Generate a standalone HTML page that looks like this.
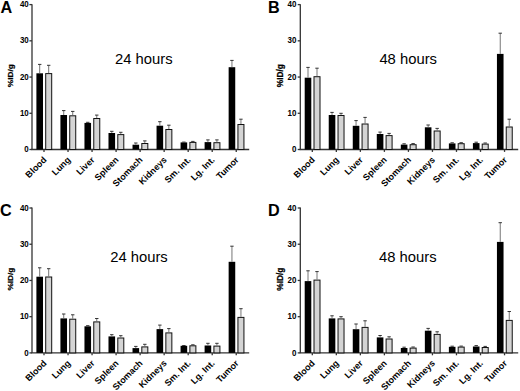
<!DOCTYPE html>
<html><head><meta charset="utf-8"><style>
html,body{margin:0;padding:0;background:#fff;}
body{width:520px;height:391px;overflow:hidden;}
svg{display:block;}
text{font-family:"Liberation Sans",sans-serif;fill:#000;}
.L{font-size:16.2px;font-weight:bold;}
.T{font-size:14.8px;}
.tn{font-size:9.5px;font-weight:bold;}
.xl{font-size:9px;font-weight:bold;}
.yl{font-size:8.3px;font-weight:bold;stroke:#000;stroke-width:0.25px;}
.ax{stroke:#333;stroke-width:1.3;}
.eb{stroke:#666;stroke-width:0.9;}
.ec{stroke:#333;stroke-width:1;}
</style></head><body>
<svg width="520" height="391" viewBox="0 0 520 391">
<rect width="520" height="391" fill="#fff"/>
<text x="0.4" y="12.5" class="L">A</text>
<text transform="translate(10.3,75.7) rotate(-90) scale(1,0.9)" class="yl" x="0" y="2.9" text-anchor="middle">%ID/g</text>
<line x1="29.4" x2="32" y1="149.5" y2="149.5" class="ax"/>
<text transform="translate(28.8,152.1) scale(0.84,1)" class="tn" text-anchor="end">0</text>
<line x1="29.4" x2="32" y1="113.28" y2="113.28" class="ax"/>
<text transform="translate(28.8,115.88) scale(0.84,1)" class="tn" text-anchor="end">10</text>
<line x1="29.4" x2="32" y1="77.05" y2="77.05" class="ax"/>
<text transform="translate(28.8,79.65) scale(0.84,1)" class="tn" text-anchor="end">20</text>
<line x1="29.4" x2="32" y1="40.83" y2="40.83" class="ax"/>
<text transform="translate(28.8,43.43) scale(0.84,1)" class="tn" text-anchor="end">30</text>
<line x1="29.4" x2="32" y1="4.6" y2="4.6" class="ax"/>
<text transform="translate(28.8,7.2) scale(0.84,1)" class="tn" text-anchor="end">40</text>
<line x1="32" x2="32" y1="4.2" y2="149.5" class="ax"/>
<line x1="31.4" x2="249.2" y1="149.5" y2="149.5" class="ax"/>
<rect x="36.4" y="73.3" width="6.6" height="76.2" fill="#000"/>
<line x1="39.7" x2="39.7" y1="64.4" y2="73.3" class="eb"/>
<line x1="38" x2="41.4" y1="64.4" y2="64.4" class="ec"/>
<rect x="45.7" y="73.6" width="6" height="75.9" fill="#d4d4d4" stroke="#111" stroke-width="1"/>
<line x1="48.7" x2="48.7" y1="65.3" y2="73.1" class="eb"/>
<line x1="47" x2="50.4" y1="65.3" y2="65.3" class="ec"/>
<line x1="44" x2="44" y1="149.5" y2="151.9" class="ax"/>
<text transform="translate(47.1,160.4) rotate(-45)" class="xl" text-anchor="end">Blood</text>
<rect x="60.43" y="115" width="6.6" height="34.5" fill="#000"/>
<line x1="63.73" x2="63.73" y1="110.6" y2="115" class="eb"/>
<line x1="62.03" x2="65.43" y1="110.6" y2="110.6" class="ec"/>
<rect x="69.73" y="115.8" width="6" height="33.7" fill="#d4d4d4" stroke="#111" stroke-width="1"/>
<line x1="72.73" x2="72.73" y1="111.4" y2="115.3" class="eb"/>
<line x1="71.03" x2="74.43" y1="111.4" y2="111.4" class="ec"/>
<line x1="68.03" x2="68.03" y1="149.5" y2="151.9" class="ax"/>
<text transform="translate(71.13,160.4) rotate(-45)" class="xl" text-anchor="end">Lung</text>
<rect x="84.46" y="122.9" width="6.6" height="26.6" fill="#000"/>
<line x1="87.76" x2="87.76" y1="122.3" y2="122.9" class="eb"/>
<line x1="86.06" x2="89.46" y1="122.3" y2="122.3" class="ec"/>
<rect x="93.76" y="118.5" width="6" height="31" fill="#d4d4d4" stroke="#111" stroke-width="1"/>
<line x1="96.76" x2="96.76" y1="115.1" y2="118" class="eb"/>
<line x1="95.06" x2="98.46" y1="115.1" y2="115.1" class="ec"/>
<line x1="92.06" x2="92.06" y1="149.5" y2="151.9" class="ax"/>
<text transform="translate(95.16,160.4) rotate(-45)" class="xl" text-anchor="end">Liver</text>
<rect x="108.49" y="133" width="6.6" height="16.5" fill="#000"/>
<line x1="111.79" x2="111.79" y1="131.3" y2="133" class="eb"/>
<line x1="110.09" x2="113.49" y1="131.3" y2="131.3" class="ec"/>
<rect x="117.79" y="134.6" width="6" height="14.9" fill="#d4d4d4" stroke="#111" stroke-width="1"/>
<line x1="120.79" x2="120.79" y1="132.3" y2="134.1" class="eb"/>
<line x1="119.09" x2="122.49" y1="132.3" y2="132.3" class="ec"/>
<line x1="116.09" x2="116.09" y1="149.5" y2="151.9" class="ax"/>
<text transform="translate(119.19,160.4) rotate(-45)" class="xl" text-anchor="end">Spleen</text>
<rect x="132.52" y="144.7" width="6.6" height="4.8" fill="#000"/>
<line x1="135.82" x2="135.82" y1="143" y2="144.7" class="eb"/>
<line x1="134.12" x2="137.52" y1="143" y2="143" class="ec"/>
<rect x="141.82" y="143.5" width="6" height="6" fill="#d4d4d4" stroke="#111" stroke-width="1"/>
<line x1="144.82" x2="144.82" y1="140.9" y2="143" class="eb"/>
<line x1="143.12" x2="146.52" y1="140.9" y2="140.9" class="ec"/>
<line x1="140.12" x2="140.12" y1="149.5" y2="151.9" class="ax"/>
<text transform="translate(143.22,160.4) rotate(-45)" class="xl" text-anchor="end">Stomach</text>
<rect x="156.55" y="125.7" width="6.6" height="23.8" fill="#000"/>
<line x1="159.85" x2="159.85" y1="121.7" y2="125.7" class="eb"/>
<line x1="158.15" x2="161.55" y1="121.7" y2="121.7" class="ec"/>
<rect x="165.85" y="129.5" width="6" height="20" fill="#d4d4d4" stroke="#111" stroke-width="1"/>
<line x1="168.85" x2="168.85" y1="125.2" y2="129" class="eb"/>
<line x1="167.15" x2="170.55" y1="125.2" y2="125.2" class="ec"/>
<line x1="164.15" x2="164.15" y1="149.5" y2="151.9" class="ax"/>
<text transform="translate(167.25,160.4) rotate(-45)" class="xl" text-anchor="end">Kidneys</text>
<rect x="180.58" y="142.4" width="6.6" height="7.1" fill="#000"/>
<line x1="182.18" x2="185.58" y1="142.1" y2="142.1" class="ec"/>
<rect x="189.88" y="142.4" width="6" height="7.1" fill="#d4d4d4" stroke="#111" stroke-width="1"/>
<line x1="192.88" x2="192.88" y1="141.4" y2="141.9" class="eb"/>
<line x1="191.18" x2="194.58" y1="141.4" y2="141.4" class="ec"/>
<line x1="188.18" x2="188.18" y1="149.5" y2="151.9" class="ax"/>
<text transform="translate(191.28,160.4) rotate(-45)" class="xl" text-anchor="end">Sm. Int.</text>
<rect x="204.61" y="142.1" width="6.6" height="7.4" fill="#000"/>
<line x1="207.91" x2="207.91" y1="139.9" y2="142.1" class="eb"/>
<line x1="206.21" x2="209.61" y1="139.9" y2="139.9" class="ec"/>
<rect x="213.91" y="142.7" width="6" height="6.8" fill="#d4d4d4" stroke="#111" stroke-width="1"/>
<line x1="216.91" x2="216.91" y1="139.9" y2="142.2" class="eb"/>
<line x1="215.21" x2="218.61" y1="139.9" y2="139.9" class="ec"/>
<line x1="212.21" x2="212.21" y1="149.5" y2="151.9" class="ax"/>
<text transform="translate(215.31,160.4) rotate(-45)" class="xl" text-anchor="end">Lg. Int.</text>
<rect x="228.64" y="67.2" width="6.6" height="82.3" fill="#000"/>
<line x1="231.94" x2="231.94" y1="60.4" y2="67.2" class="eb"/>
<line x1="230.24" x2="233.64" y1="60.4" y2="60.4" class="ec"/>
<rect x="237.94" y="124.5" width="6" height="25" fill="#d4d4d4" stroke="#111" stroke-width="1"/>
<line x1="240.94" x2="240.94" y1="119.2" y2="124" class="eb"/>
<line x1="239.24" x2="242.64" y1="119.2" y2="119.2" class="ec"/>
<line x1="236.24" x2="236.24" y1="149.5" y2="151.9" class="ax"/>
<text transform="translate(239.34,160.4) rotate(-45)" class="xl" text-anchor="end">Tumor</text>
<text x="115" y="64" class="T">24 hours</text>
<text x="267.9" y="12.5" class="L">B</text>
<text transform="translate(279.9,75.7) rotate(-90) scale(1,1.0)" class="yl" x="0" y="2.9" text-anchor="middle">%ID/g</text>
<line x1="297.7" x2="300.3" y1="149.5" y2="149.5" class="ax"/>
<text transform="translate(296.5,152.1) scale(0.84,1)" class="tn" text-anchor="end">0</text>
<line x1="297.7" x2="300.3" y1="113.28" y2="113.28" class="ax"/>
<text transform="translate(296.5,115.88) scale(0.84,1)" class="tn" text-anchor="end">10</text>
<line x1="297.7" x2="300.3" y1="77.05" y2="77.05" class="ax"/>
<text transform="translate(296.5,79.65) scale(0.84,1)" class="tn" text-anchor="end">20</text>
<line x1="297.7" x2="300.3" y1="40.83" y2="40.83" class="ax"/>
<text transform="translate(296.5,43.43) scale(0.84,1)" class="tn" text-anchor="end">30</text>
<line x1="297.7" x2="300.3" y1="4.6" y2="4.6" class="ax"/>
<text transform="translate(296.5,7.2) scale(0.84,1)" class="tn" text-anchor="end">40</text>
<line x1="300.3" x2="300.3" y1="4.2" y2="149.5" class="ax"/>
<line x1="299.7" x2="518.2" y1="149.5" y2="149.5" class="ax"/>
<rect x="304.7" y="77.7" width="6.6" height="71.8" fill="#000"/>
<line x1="308" x2="308" y1="67.4" y2="77.7" class="eb"/>
<line x1="306.3" x2="309.7" y1="67.4" y2="67.4" class="ec"/>
<rect x="314" y="76.7" width="6" height="72.8" fill="#d4d4d4" stroke="#111" stroke-width="1"/>
<line x1="317" x2="317" y1="68.2" y2="76.2" class="eb"/>
<line x1="315.3" x2="318.7" y1="68.2" y2="68.2" class="ec"/>
<line x1="312.3" x2="312.3" y1="149.5" y2="151.9" class="ax"/>
<text transform="translate(315.4,160.4) rotate(-45)" class="xl" text-anchor="end">Blood</text>
<rect x="328.73" y="115" width="6.6" height="34.5" fill="#000"/>
<line x1="332.03" x2="332.03" y1="112.4" y2="115" class="eb"/>
<line x1="330.33" x2="333.73" y1="112.4" y2="112.4" class="ec"/>
<rect x="338.03" y="115.5" width="6" height="34" fill="#d4d4d4" stroke="#111" stroke-width="1"/>
<line x1="341.03" x2="341.03" y1="113.3" y2="115" class="eb"/>
<line x1="339.33" x2="342.73" y1="113.3" y2="113.3" class="ec"/>
<line x1="336.33" x2="336.33" y1="149.5" y2="151.9" class="ax"/>
<text transform="translate(339.43,160.4) rotate(-45)" class="xl" text-anchor="end">Lung</text>
<rect x="352.76" y="125.8" width="6.6" height="23.7" fill="#000"/>
<line x1="356.06" x2="356.06" y1="120.6" y2="125.8" class="eb"/>
<line x1="354.36" x2="357.76" y1="120.6" y2="120.6" class="ec"/>
<rect x="362.06" y="124" width="6" height="25.5" fill="#d4d4d4" stroke="#111" stroke-width="1"/>
<line x1="365.06" x2="365.06" y1="117.4" y2="123.5" class="eb"/>
<line x1="363.36" x2="366.76" y1="117.4" y2="117.4" class="ec"/>
<line x1="360.36" x2="360.36" y1="149.5" y2="151.9" class="ax"/>
<text transform="translate(363.46,160.4) rotate(-45)" class="xl" text-anchor="end">Liver</text>
<rect x="376.79" y="134" width="6.6" height="15.5" fill="#000"/>
<line x1="380.09" x2="380.09" y1="132.1" y2="134" class="eb"/>
<line x1="378.39" x2="381.79" y1="132.1" y2="132.1" class="ec"/>
<rect x="386.09" y="135.6" width="6" height="13.9" fill="#d4d4d4" stroke="#111" stroke-width="1"/>
<line x1="389.09" x2="389.09" y1="133.4" y2="135.1" class="eb"/>
<line x1="387.39" x2="390.79" y1="133.4" y2="133.4" class="ec"/>
<line x1="384.39" x2="384.39" y1="149.5" y2="151.9" class="ax"/>
<text transform="translate(387.49,160.4) rotate(-45)" class="xl" text-anchor="end">Spleen</text>
<rect x="400.82" y="144.6" width="6.6" height="4.9" fill="#000"/>
<line x1="404.12" x2="404.12" y1="143.8" y2="144.6" class="eb"/>
<line x1="402.42" x2="405.82" y1="143.8" y2="143.8" class="ec"/>
<rect x="410.12" y="144.7" width="6" height="4.8" fill="#d4d4d4" stroke="#111" stroke-width="1"/>
<line x1="413.12" x2="413.12" y1="143.6" y2="144.2" class="eb"/>
<line x1="411.42" x2="414.82" y1="143.6" y2="143.6" class="ec"/>
<line x1="408.42" x2="408.42" y1="149.5" y2="151.9" class="ax"/>
<text transform="translate(411.52,160.4) rotate(-45)" class="xl" text-anchor="end">Stomach</text>
<rect x="424.85" y="127.3" width="6.6" height="22.2" fill="#000"/>
<line x1="428.15" x2="428.15" y1="125" y2="127.3" class="eb"/>
<line x1="426.45" x2="429.85" y1="125" y2="125" class="ec"/>
<rect x="434.15" y="131" width="6" height="18.5" fill="#d4d4d4" stroke="#111" stroke-width="1"/>
<line x1="437.15" x2="437.15" y1="128.4" y2="130.5" class="eb"/>
<line x1="435.45" x2="438.85" y1="128.4" y2="128.4" class="ec"/>
<line x1="432.45" x2="432.45" y1="149.5" y2="151.9" class="ax"/>
<text transform="translate(435.55,160.4) rotate(-45)" class="xl" text-anchor="end">Kidneys</text>
<rect x="448.88" y="143.4" width="6.6" height="6.1" fill="#000"/>
<line x1="452.18" x2="452.18" y1="142.8" y2="143.4" class="eb"/>
<line x1="450.48" x2="453.88" y1="142.8" y2="142.8" class="ec"/>
<rect x="458.18" y="143.7" width="6" height="5.8" fill="#d4d4d4" stroke="#111" stroke-width="1"/>
<line x1="461.18" x2="461.18" y1="142.7" y2="143.2" class="eb"/>
<line x1="459.48" x2="462.88" y1="142.7" y2="142.7" class="ec"/>
<line x1="456.48" x2="456.48" y1="149.5" y2="151.9" class="ax"/>
<text transform="translate(459.58,160.4) rotate(-45)" class="xl" text-anchor="end">Sm. Int.</text>
<rect x="472.91" y="143.1" width="6.6" height="6.4" fill="#000"/>
<line x1="476.21" x2="476.21" y1="142.2" y2="143.1" class="eb"/>
<line x1="474.51" x2="477.91" y1="142.2" y2="142.2" class="ec"/>
<rect x="482.21" y="144.1" width="6" height="5.4" fill="#d4d4d4" stroke="#111" stroke-width="1"/>
<line x1="485.21" x2="485.21" y1="143" y2="143.6" class="eb"/>
<line x1="483.51" x2="486.91" y1="143" y2="143" class="ec"/>
<line x1="480.51" x2="480.51" y1="149.5" y2="151.9" class="ax"/>
<text transform="translate(483.61,160.4) rotate(-45)" class="xl" text-anchor="end">Lg. Int.</text>
<rect x="496.94" y="53.9" width="6.6" height="95.6" fill="#000"/>
<line x1="500.24" x2="500.24" y1="33.2" y2="53.9" class="eb"/>
<line x1="498.54" x2="501.94" y1="33.2" y2="33.2" class="ec"/>
<rect x="506.24" y="127" width="6" height="22.5" fill="#d4d4d4" stroke="#111" stroke-width="1"/>
<line x1="509.24" x2="509.24" y1="119.2" y2="126.5" class="eb"/>
<line x1="507.54" x2="510.94" y1="119.2" y2="119.2" class="ec"/>
<line x1="504.54" x2="504.54" y1="149.5" y2="151.9" class="ax"/>
<text transform="translate(507.64,160.4) rotate(-45)" class="xl" text-anchor="end">Tumor</text>
<text x="379.4" y="64" class="T">48 hours</text>
<text x="-0.1" y="215.9" class="L">C</text>
<text transform="translate(10.3,279.1) rotate(-90) scale(1,0.9)" class="yl" x="0" y="2.9" text-anchor="middle">%ID/g</text>
<line x1="29.4" x2="32" y1="352.9" y2="352.9" class="ax"/>
<text transform="translate(28.8,355.5) scale(0.84,1)" class="tn" text-anchor="end">0</text>
<line x1="29.4" x2="32" y1="316.68" y2="316.68" class="ax"/>
<text transform="translate(28.8,319.28) scale(0.84,1)" class="tn" text-anchor="end">10</text>
<line x1="29.4" x2="32" y1="280.45" y2="280.45" class="ax"/>
<text transform="translate(28.8,283.05) scale(0.84,1)" class="tn" text-anchor="end">20</text>
<line x1="29.4" x2="32" y1="244.23" y2="244.23" class="ax"/>
<text transform="translate(28.8,246.83) scale(0.84,1)" class="tn" text-anchor="end">30</text>
<line x1="29.4" x2="32" y1="208" y2="208" class="ax"/>
<text transform="translate(28.8,210.6) scale(0.84,1)" class="tn" text-anchor="end">40</text>
<line x1="32" x2="32" y1="207.6" y2="352.9" class="ax"/>
<line x1="31.4" x2="249.2" y1="352.9" y2="352.9" class="ax"/>
<rect x="36.4" y="276.7" width="6.6" height="76.2" fill="#000"/>
<line x1="39.7" x2="39.7" y1="267.8" y2="276.7" class="eb"/>
<line x1="38" x2="41.4" y1="267.8" y2="267.8" class="ec"/>
<rect x="45.7" y="277" width="6" height="75.9" fill="#d4d4d4" stroke="#111" stroke-width="1"/>
<line x1="48.7" x2="48.7" y1="268.7" y2="276.5" class="eb"/>
<line x1="47" x2="50.4" y1="268.7" y2="268.7" class="ec"/>
<line x1="44" x2="44" y1="352.9" y2="355.3" class="ax"/>
<text transform="translate(47.1,363.8) rotate(-45)" class="xl" text-anchor="end">Blood</text>
<rect x="60.43" y="318.4" width="6.6" height="34.5" fill="#000"/>
<line x1="63.73" x2="63.73" y1="314" y2="318.4" class="eb"/>
<line x1="62.03" x2="65.43" y1="314" y2="314" class="ec"/>
<rect x="69.73" y="319.2" width="6" height="33.7" fill="#d4d4d4" stroke="#111" stroke-width="1"/>
<line x1="72.73" x2="72.73" y1="314.8" y2="318.7" class="eb"/>
<line x1="71.03" x2="74.43" y1="314.8" y2="314.8" class="ec"/>
<line x1="68.03" x2="68.03" y1="352.9" y2="355.3" class="ax"/>
<text transform="translate(71.13,363.8) rotate(-45)" class="xl" text-anchor="end">Lung</text>
<rect x="84.46" y="326.3" width="6.6" height="26.6" fill="#000"/>
<line x1="87.76" x2="87.76" y1="325.7" y2="326.3" class="eb"/>
<line x1="86.06" x2="89.46" y1="325.7" y2="325.7" class="ec"/>
<rect x="93.76" y="321.9" width="6" height="31" fill="#d4d4d4" stroke="#111" stroke-width="1"/>
<line x1="96.76" x2="96.76" y1="318.5" y2="321.4" class="eb"/>
<line x1="95.06" x2="98.46" y1="318.5" y2="318.5" class="ec"/>
<line x1="92.06" x2="92.06" y1="352.9" y2="355.3" class="ax"/>
<text transform="translate(95.16,363.8) rotate(-45)" class="xl" text-anchor="end">Liver</text>
<rect x="108.49" y="336.4" width="6.6" height="16.5" fill="#000"/>
<line x1="111.79" x2="111.79" y1="334.7" y2="336.4" class="eb"/>
<line x1="110.09" x2="113.49" y1="334.7" y2="334.7" class="ec"/>
<rect x="117.79" y="338" width="6" height="14.9" fill="#d4d4d4" stroke="#111" stroke-width="1"/>
<line x1="120.79" x2="120.79" y1="335.7" y2="337.5" class="eb"/>
<line x1="119.09" x2="122.49" y1="335.7" y2="335.7" class="ec"/>
<line x1="116.09" x2="116.09" y1="352.9" y2="355.3" class="ax"/>
<text transform="translate(119.19,363.8) rotate(-45)" class="xl" text-anchor="end">Spleen</text>
<rect x="132.52" y="348.1" width="6.6" height="4.8" fill="#000"/>
<line x1="135.82" x2="135.82" y1="346.4" y2="348.1" class="eb"/>
<line x1="134.12" x2="137.52" y1="346.4" y2="346.4" class="ec"/>
<rect x="141.82" y="346.9" width="6" height="6" fill="#d4d4d4" stroke="#111" stroke-width="1"/>
<line x1="144.82" x2="144.82" y1="344.3" y2="346.4" class="eb"/>
<line x1="143.12" x2="146.52" y1="344.3" y2="344.3" class="ec"/>
<line x1="140.12" x2="140.12" y1="352.9" y2="355.3" class="ax"/>
<text transform="translate(143.22,363.8) rotate(-45)" class="xl" text-anchor="end">Stomach</text>
<rect x="156.55" y="329.1" width="6.6" height="23.8" fill="#000"/>
<line x1="159.85" x2="159.85" y1="325.1" y2="329.1" class="eb"/>
<line x1="158.15" x2="161.55" y1="325.1" y2="325.1" class="ec"/>
<rect x="165.85" y="332.9" width="6" height="20" fill="#d4d4d4" stroke="#111" stroke-width="1"/>
<line x1="168.85" x2="168.85" y1="328.6" y2="332.4" class="eb"/>
<line x1="167.15" x2="170.55" y1="328.6" y2="328.6" class="ec"/>
<line x1="164.15" x2="164.15" y1="352.9" y2="355.3" class="ax"/>
<text transform="translate(167.25,363.8) rotate(-45)" class="xl" text-anchor="end">Kidneys</text>
<rect x="180.58" y="345.8" width="6.6" height="7.1" fill="#000"/>
<line x1="182.18" x2="185.58" y1="345.5" y2="345.5" class="ec"/>
<rect x="189.88" y="345.8" width="6" height="7.1" fill="#d4d4d4" stroke="#111" stroke-width="1"/>
<line x1="192.88" x2="192.88" y1="344.8" y2="345.3" class="eb"/>
<line x1="191.18" x2="194.58" y1="344.8" y2="344.8" class="ec"/>
<line x1="188.18" x2="188.18" y1="352.9" y2="355.3" class="ax"/>
<text transform="translate(191.28,363.8) rotate(-45)" class="xl" text-anchor="end">Sm. Int.</text>
<rect x="204.61" y="345.5" width="6.6" height="7.4" fill="#000"/>
<line x1="207.91" x2="207.91" y1="343.3" y2="345.5" class="eb"/>
<line x1="206.21" x2="209.61" y1="343.3" y2="343.3" class="ec"/>
<rect x="213.91" y="346.1" width="6" height="6.8" fill="#d4d4d4" stroke="#111" stroke-width="1"/>
<line x1="216.91" x2="216.91" y1="343.3" y2="345.6" class="eb"/>
<line x1="215.21" x2="218.61" y1="343.3" y2="343.3" class="ec"/>
<line x1="212.21" x2="212.21" y1="352.9" y2="355.3" class="ax"/>
<text transform="translate(215.31,363.8) rotate(-45)" class="xl" text-anchor="end">Lg. Int.</text>
<rect x="228.64" y="261.8" width="6.6" height="91.1" fill="#000"/>
<line x1="231.94" x2="231.94" y1="246.2" y2="261.8" class="eb"/>
<line x1="230.24" x2="233.64" y1="246.2" y2="246.2" class="ec"/>
<rect x="237.94" y="317.4" width="6" height="35.5" fill="#d4d4d4" stroke="#111" stroke-width="1"/>
<line x1="240.94" x2="240.94" y1="308.7" y2="316.9" class="eb"/>
<line x1="239.24" x2="242.64" y1="308.7" y2="308.7" class="ec"/>
<line x1="236.24" x2="236.24" y1="352.9" y2="355.3" class="ax"/>
<text transform="translate(239.34,363.8) rotate(-45)" class="xl" text-anchor="end">Tumor</text>
<text x="110.2" y="262.2" class="T">24 hours</text>
<text x="268" y="215.9" class="L">D</text>
<text transform="translate(279.9,279.1) rotate(-90) scale(1,1.0)" class="yl" x="0" y="2.9" text-anchor="middle">%ID/g</text>
<line x1="297.7" x2="300.3" y1="352.9" y2="352.9" class="ax"/>
<text transform="translate(296.5,355.5) scale(0.84,1)" class="tn" text-anchor="end">0</text>
<line x1="297.7" x2="300.3" y1="316.68" y2="316.68" class="ax"/>
<text transform="translate(296.5,319.28) scale(0.84,1)" class="tn" text-anchor="end">10</text>
<line x1="297.7" x2="300.3" y1="280.45" y2="280.45" class="ax"/>
<text transform="translate(296.5,283.05) scale(0.84,1)" class="tn" text-anchor="end">20</text>
<line x1="297.7" x2="300.3" y1="244.23" y2="244.23" class="ax"/>
<text transform="translate(296.5,246.83) scale(0.84,1)" class="tn" text-anchor="end">30</text>
<line x1="297.7" x2="300.3" y1="208" y2="208" class="ax"/>
<text transform="translate(296.5,210.6) scale(0.84,1)" class="tn" text-anchor="end">40</text>
<line x1="300.3" x2="300.3" y1="207.6" y2="352.9" class="ax"/>
<line x1="299.7" x2="518.2" y1="352.9" y2="352.9" class="ax"/>
<rect x="304.7" y="281.1" width="6.6" height="71.8" fill="#000"/>
<line x1="308" x2="308" y1="270.8" y2="281.1" class="eb"/>
<line x1="306.3" x2="309.7" y1="270.8" y2="270.8" class="ec"/>
<rect x="314" y="280.1" width="6" height="72.8" fill="#d4d4d4" stroke="#111" stroke-width="1"/>
<line x1="317" x2="317" y1="271.6" y2="279.6" class="eb"/>
<line x1="315.3" x2="318.7" y1="271.6" y2="271.6" class="ec"/>
<line x1="312.3" x2="312.3" y1="352.9" y2="355.3" class="ax"/>
<text transform="translate(315.4,363.8) rotate(-45)" class="xl" text-anchor="end">Blood</text>
<rect x="328.73" y="318.4" width="6.6" height="34.5" fill="#000"/>
<line x1="332.03" x2="332.03" y1="315.8" y2="318.4" class="eb"/>
<line x1="330.33" x2="333.73" y1="315.8" y2="315.8" class="ec"/>
<rect x="338.03" y="318.9" width="6" height="34" fill="#d4d4d4" stroke="#111" stroke-width="1"/>
<line x1="341.03" x2="341.03" y1="316.7" y2="318.4" class="eb"/>
<line x1="339.33" x2="342.73" y1="316.7" y2="316.7" class="ec"/>
<line x1="336.33" x2="336.33" y1="352.9" y2="355.3" class="ax"/>
<text transform="translate(339.43,363.8) rotate(-45)" class="xl" text-anchor="end">Lung</text>
<rect x="352.76" y="329.2" width="6.6" height="23.7" fill="#000"/>
<line x1="356.06" x2="356.06" y1="324" y2="329.2" class="eb"/>
<line x1="354.36" x2="357.76" y1="324" y2="324" class="ec"/>
<rect x="362.06" y="327.4" width="6" height="25.5" fill="#d4d4d4" stroke="#111" stroke-width="1"/>
<line x1="365.06" x2="365.06" y1="320.8" y2="326.9" class="eb"/>
<line x1="363.36" x2="366.76" y1="320.8" y2="320.8" class="ec"/>
<line x1="360.36" x2="360.36" y1="352.9" y2="355.3" class="ax"/>
<text transform="translate(363.46,363.8) rotate(-45)" class="xl" text-anchor="end">Liver</text>
<rect x="376.79" y="337.4" width="6.6" height="15.5" fill="#000"/>
<line x1="380.09" x2="380.09" y1="335.5" y2="337.4" class="eb"/>
<line x1="378.39" x2="381.79" y1="335.5" y2="335.5" class="ec"/>
<rect x="386.09" y="339" width="6" height="13.9" fill="#d4d4d4" stroke="#111" stroke-width="1"/>
<line x1="389.09" x2="389.09" y1="336.8" y2="338.5" class="eb"/>
<line x1="387.39" x2="390.79" y1="336.8" y2="336.8" class="ec"/>
<line x1="384.39" x2="384.39" y1="352.9" y2="355.3" class="ax"/>
<text transform="translate(387.49,363.8) rotate(-45)" class="xl" text-anchor="end">Spleen</text>
<rect x="400.82" y="348" width="6.6" height="4.9" fill="#000"/>
<line x1="404.12" x2="404.12" y1="347.2" y2="348" class="eb"/>
<line x1="402.42" x2="405.82" y1="347.2" y2="347.2" class="ec"/>
<rect x="410.12" y="348.1" width="6" height="4.8" fill="#d4d4d4" stroke="#111" stroke-width="1"/>
<line x1="413.12" x2="413.12" y1="347" y2="347.6" class="eb"/>
<line x1="411.42" x2="414.82" y1="347" y2="347" class="ec"/>
<line x1="408.42" x2="408.42" y1="352.9" y2="355.3" class="ax"/>
<text transform="translate(411.52,363.8) rotate(-45)" class="xl" text-anchor="end">Stomach</text>
<rect x="424.85" y="330.7" width="6.6" height="22.2" fill="#000"/>
<line x1="428.15" x2="428.15" y1="328.4" y2="330.7" class="eb"/>
<line x1="426.45" x2="429.85" y1="328.4" y2="328.4" class="ec"/>
<rect x="434.15" y="334.4" width="6" height="18.5" fill="#d4d4d4" stroke="#111" stroke-width="1"/>
<line x1="437.15" x2="437.15" y1="331.8" y2="333.9" class="eb"/>
<line x1="435.45" x2="438.85" y1="331.8" y2="331.8" class="ec"/>
<line x1="432.45" x2="432.45" y1="352.9" y2="355.3" class="ax"/>
<text transform="translate(435.55,363.8) rotate(-45)" class="xl" text-anchor="end">Kidneys</text>
<rect x="448.88" y="346.8" width="6.6" height="6.1" fill="#000"/>
<line x1="452.18" x2="452.18" y1="346.2" y2="346.8" class="eb"/>
<line x1="450.48" x2="453.88" y1="346.2" y2="346.2" class="ec"/>
<rect x="458.18" y="347.1" width="6" height="5.8" fill="#d4d4d4" stroke="#111" stroke-width="1"/>
<line x1="461.18" x2="461.18" y1="346.1" y2="346.6" class="eb"/>
<line x1="459.48" x2="462.88" y1="346.1" y2="346.1" class="ec"/>
<line x1="456.48" x2="456.48" y1="352.9" y2="355.3" class="ax"/>
<text transform="translate(459.58,363.8) rotate(-45)" class="xl" text-anchor="end">Sm. Int.</text>
<rect x="472.91" y="346.5" width="6.6" height="6.4" fill="#000"/>
<line x1="476.21" x2="476.21" y1="345.6" y2="346.5" class="eb"/>
<line x1="474.51" x2="477.91" y1="345.6" y2="345.6" class="ec"/>
<rect x="482.21" y="347.5" width="6" height="5.4" fill="#d4d4d4" stroke="#111" stroke-width="1"/>
<line x1="485.21" x2="485.21" y1="346.4" y2="347" class="eb"/>
<line x1="483.51" x2="486.91" y1="346.4" y2="346.4" class="ec"/>
<line x1="480.51" x2="480.51" y1="352.9" y2="355.3" class="ax"/>
<text transform="translate(483.61,363.8) rotate(-45)" class="xl" text-anchor="end">Lg. Int.</text>
<rect x="496.94" y="241.9" width="6.6" height="111" fill="#000"/>
<line x1="500.24" x2="500.24" y1="222.7" y2="241.9" class="eb"/>
<line x1="498.54" x2="501.94" y1="222.7" y2="222.7" class="ec"/>
<rect x="506.24" y="320.4" width="6" height="32.5" fill="#d4d4d4" stroke="#111" stroke-width="1"/>
<line x1="509.24" x2="509.24" y1="311.5" y2="319.9" class="eb"/>
<line x1="507.54" x2="510.94" y1="311.5" y2="311.5" class="ec"/>
<line x1="504.54" x2="504.54" y1="352.9" y2="355.3" class="ax"/>
<text transform="translate(507.64,363.8) rotate(-45)" class="xl" text-anchor="end">Tumor</text>
<text x="379" y="262.2" class="T">48 hours</text>
</svg>
</body></html>
